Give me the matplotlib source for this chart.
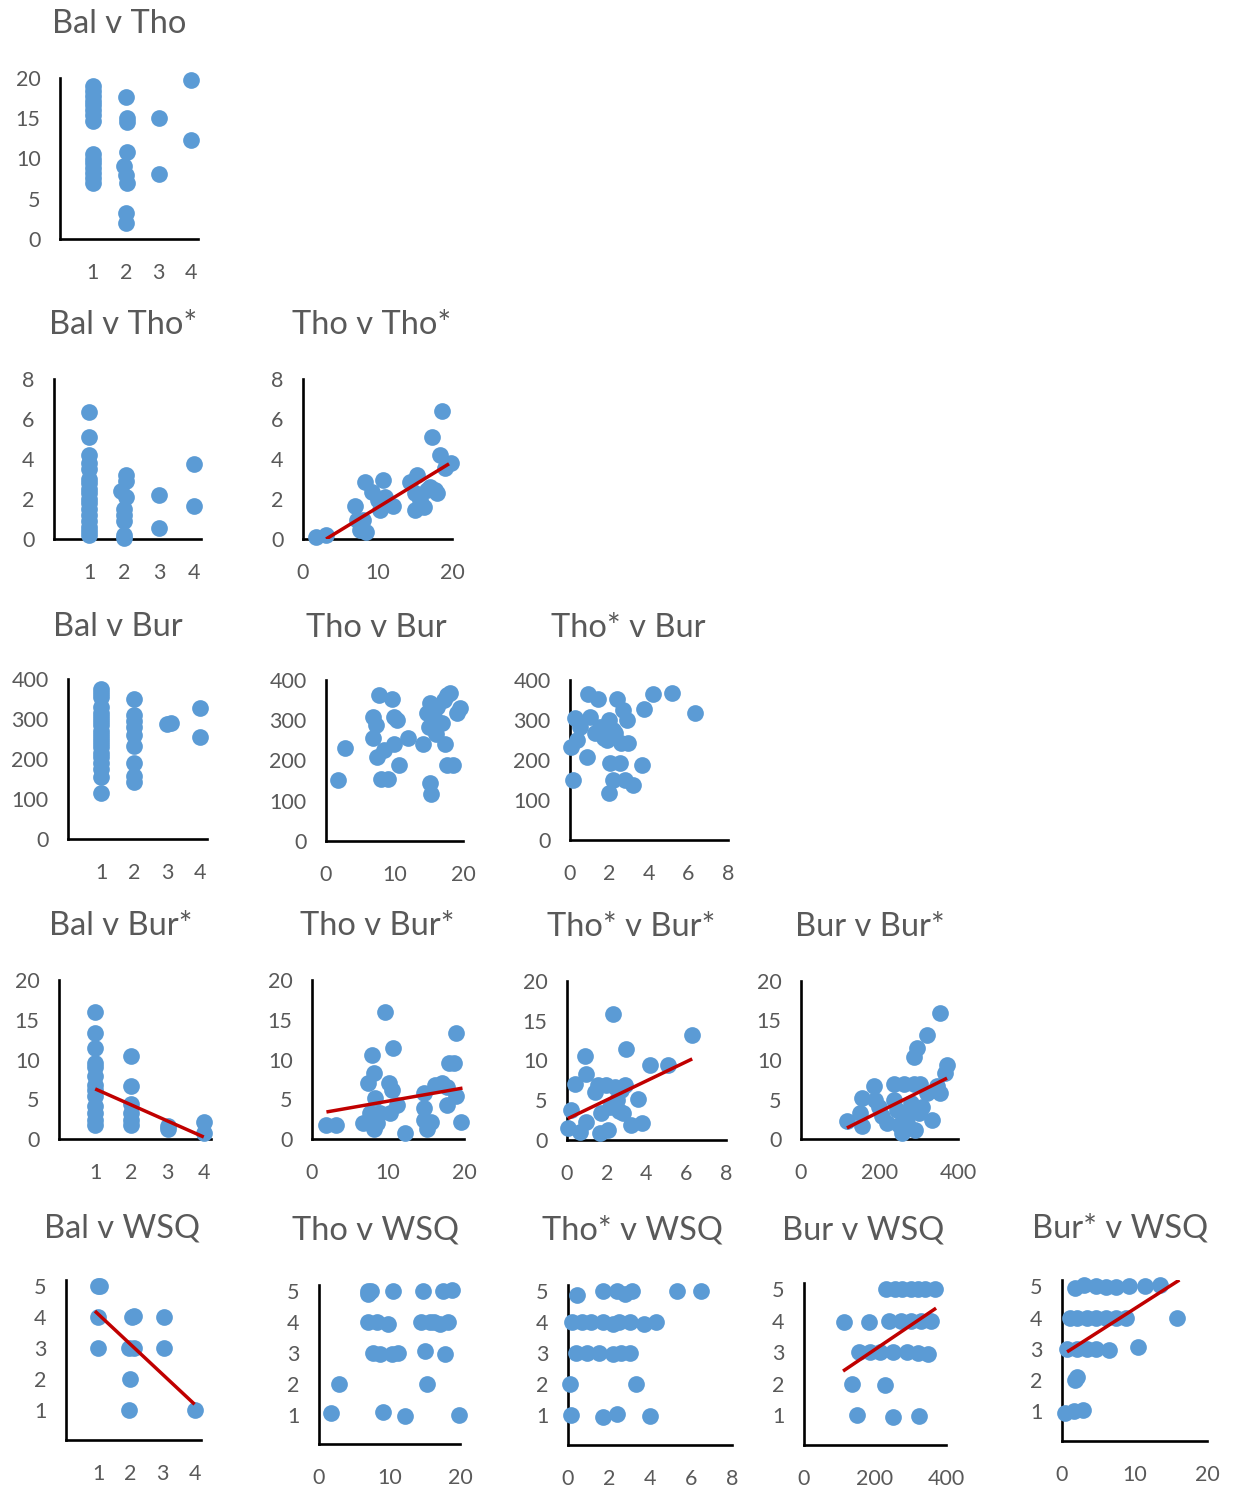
import numpy as np
import matplotlib
matplotlib.use("Agg")
import matplotlib.pyplot as plt

plt.rcParams['font.family'] = ['Lato', 'DejaVu Sans']

W, H = 1236, 1488
DOT = '#5B9BD5'
LINE = '#C00000'
GREY = '#595959'

# ---- data ----
bal_tho_x = [1, 1, 1, 1, 1, 1, 1, 1, 1, 1, 1, 1, 1, 1, 1,
             2, 2.05, 2.05, 2.05, 1.95, 2, 2.05, 2, 2, 3, 3, 4, 4]
bal_tho_y = [19.0, 18.4, 17.8, 17.2, 16.6, 16.0, 15.4, 14.7, 10.6, 10.0, 9.4, 8.8, 8.2, 7.6, 7.0,
             17.6, 15.0, 14.5, 10.8, 9.1, 8.0, 7.0, 3.2, 2.0, 15.0, 8.1, 19.7, 12.3]

bal_thos_x = [1, 1, 1, 1, 1, 1, 1, 1, 1, 1, 1, 1, 1, 1, 1, 1, 1,
              2.05, 2.05, 1.9, 2.05, 2, 2, 2, 2, 2, 3, 3, 4, 4]
bal_thos_y = [6.35, 5.1, 4.2, 3.8, 3.5, 3.0, 2.8, 2.5, 2.3, 2.0, 1.8, 1.5, 1.2, 0.9, 0.6, 0.4, 0.2,
              3.2, 2.9, 2.4, 2.1, 1.5, 1.2, 0.9, 0.2, 0.05, 2.2, 0.55, 3.75, 1.65]

tho_thos_x = [1.8, 3.1, 7.0, 7.2, 7.6, 8.3, 8.5, 8.1, 9.2, 10.1, 10.3, 10.7, 11.0, 12.1, 14.4,
              15.3, 15.1, 15.1, 16.2, 15.7, 17.1, 17.7, 17.3, 18.4, 18.7, 19.8, 19.1, 18.0, 16.6]
tho_thos_y = [0.08, 0.18, 1.65, 0.95, 0.45, 2.87, 0.37, 0.95, 2.37, 1.95, 1.45, 2.95, 2.12, 1.65, 2.87,
              3.2, 2.28, 1.45, 1.62, 1.95, 2.62, 2.45, 5.12, 4.2, 6.38, 3.79, 3.54, 2.28, 2.45]

bal_bur_x = [1, 1, 1, 1, 1, 1, 1, 1, 1, 1, 1, 1, 1, 1, 1, 1, 1, 1, 1,
             2, 2, 2, 2, 2, 2, 2, 2, 2, 3, 3.1, 4, 4]
bal_bur_y = [375, 365, 355, 330, 315, 305, 295, 285, 270, 260, 250, 240, 230, 215, 205, 190, 175, 155, 115,
             350, 310, 295, 280, 260, 232, 190, 157, 142, 288, 290, 327, 254]

tho_bur_x = [1.8, 2.8, 7.7, 6.9, 7.3, 6.9, 7.5, 8.4, 8.1, 9.1, 9.6, 9.9, 10.3, 9.9, 10.7, 12.0, 14.2,
             14.7, 15.0, 15.2, 15.4, 16.0, 16.2, 16.9, 17.4, 17.7, 18.1, 17.2, 17.7, 18.6, 19.1, 19.6,
             15.7, 15.2]
tho_bur_y = [151, 232, 363, 309, 288, 255, 209, 226, 155, 153, 354, 309, 300, 242, 188, 255, 242,
             317, 284, 143, 118, 267, 334, 292, 242, 363, 367, 350, 188, 188, 317, 330,
             309, 342]

thos_bur_x = [0.17, 0.03, 0.25, 0.34, 0.5, 0.88, 0.93, 1.0, 1.44, 1.27, 1.5, 1.7, 1.95, 2.0, 1.95,
              2.2, 2.28, 2.37, 2.54, 2.6, 2.7, 2.8, 2.88, 2.96, 3.2, 3.64, 3.77, 4.2, 5.16, 6.35,
              2.2, 1.86]
thos_bur_y = [150, 233, 304, 250, 283, 207, 364, 308, 352, 267, 283, 254, 300, 192, 117,
              150, 267, 352, 192, 242, 325, 150, 300, 242, 138, 188, 327, 365, 368, 317,
              275, 250]

bal_burs_x = [1, 1, 1, 1, 1, 1, 1, 1, 1, 1, 1, 1, 1,
              2, 2, 2, 2, 2, 2, 3, 3, 4, 4]
bal_burs_y = [16.0, 13.3, 11.4, 9.5, 9.1, 7.9, 6.8, 6.2, 5.4, 4.1, 3.3, 2.4, 1.8,
              10.5, 6.7, 4.4, 3.3, 2.4, 1.8, 1.6, 1.2, 2.2, 0.75]

tho_burs_x = [1.8, 3.2, 6.75, 7.4, 7.85, 8.1, 8.3, 7.6, 8.1, 9.0, 9.6, 10.1, 10.5, 10.3, 10.7, 11.2,
              12.3, 14.7, 14.7, 14.7, 15.6, 15.1, 16.2, 17.1, 17.8, 17.8, 18.0, 18.7, 18.9, 19.0, 19.6,
              8.5]
tho_burs_y = [1.7, 1.8, 2.0, 7.0, 10.6, 8.3, 5.1, 3.3, 1.2, 3.3, 16.0, 7.0, 6.2, 3.3, 11.5, 4.3,
              0.75, 5.8, 3.9, 2.4, 2.2, 1.2, 6.8, 7.0, 6.6, 4.3, 9.5, 9.5, 5.4, 13.3, 2.2,
              2.0]

thos_burs_x = [0.05, 0.2, 0.4, 0.64, 0.9, 0.94, 0.97, 1.4, 1.55, 1.65, 1.7, 1.98, 2.07, 2.3, 2.4,
               2.5, 2.6, 2.74, 2.9, 2.96, 2.8, 3.24, 3.58, 3.75, 4.17, 5.1, 6.3, 2.15]
thos_burs_y = [1.5, 3.8, 7.0, 1.05, 10.6, 8.3, 2.3, 6.1, 6.9, 0.84, 3.35, 6.9, 1.26, 15.9, 6.7,
               5.0, 3.6, 6.3, 6.9, 11.4, 3.35, 1.9, 5.2, 2.1, 9.4, 9.4, 13.2, 4.2]

bur_burs_x = [117, 151, 155, 155, 185, 189, 198, 206, 219, 236, 236, 245, 249, 257, 262, 270, 270,
              287, 287, 296, 291, 300, 304, 308, 321, 321, 334, 346, 353, 355, 368, 372, 279]
bur_burs_y = [2.3, 3.3, 1.7, 5.2, 6.7, 5.0, 4.1, 2.9, 2.0, 5.0, 6.9, 3.7, 1.8, 0.76, 6.9, 3.3, 2.0,
              6.9, 10.4, 11.5, 1.2, 3.3, 6.9, 4.1, 13.2, 5.8, 2.4, 6.7, 15.9, 5.8, 8.3, 9.4, 4.6]

bal_wsq_x = [1, 1.05, 1, 1, 2.05, 2.1, 1.95, 2.1, 2, 1.95, 3.05, 3.05, 4]
bal_wsq_y = [5, 5, 4, 3, 4, 4.05, 3, 3, 2, 1, 4, 3, 1]

tho_wsq_x = [1.75, 2.9, 7.0, 7.0, 7.4, 7.0, 8.2, 9.8, 9.1, 10.5, 7.7, 8.6, 10.3, 11.2, 12.2, 14.8,
             14.5, 15.7, 17.2, 18.3, 15.0, 17.9, 15.3, 17.6, 18.8, 19.8, 16.3]
tho_wsq_y = [1.07, 1.98, 5.0, 4.9, 5.0, 4.0, 4.0, 3.95, 1.1, 5.0, 3.0, 2.95, 2.95, 3.0, 0.95, 5.0,
             4.0, 4.0, 3.95, 4.0, 3.05, 2.95, 2.0, 5.0, 5.05, 1.0, 4.0]

thos_wsq_x = [0.44, 1.7, 2.4, 2.8, 3.1, 5.3, 6.5,
              0.2, 0.7, 1.1, 1.7, 2.2, 2.5, 3.0, 3.7, 4.3,
              0.4, 0.95, 1.5, 2.2, 2.6, 3.0,
              0.1, 3.3, 0.15, 1.7, 2.4, 4.0]
thos_wsq_y = [4.87, 5.0, 5.0, 4.9, 5.0, 5.0, 5.0,
              4.0, 4.0, 4.0, 4.0, 3.95, 4.0, 4.0, 3.95, 4.0,
              3.0, 3.0, 3.0, 2.97, 3.0, 3.0,
              2.0, 2.0, 1.0, 0.95, 1.05, 0.97]

bur_wsq_x = [230, 255, 275, 300, 320, 340, 368,
             113, 183, 239, 273, 301, 330, 358,
             155, 185, 215, 250, 290, 320, 348,
             135, 228, 149, 251, 324]
bur_wsq_y = [5.0, 5.0, 5.0, 5.0, 5.0, 5.0, 5.0,
             3.95, 3.95, 4.0, 4.0, 4.0, 4.0, 4.0,
             3.0, 3.0, 3.0, 3.0, 3.0, 2.98, 2.95,
             2.0, 1.97, 1.0, 0.95, 0.97]

burs_wsq_x = [1.8, 3.1, 4.7, 6.1, 7.4, 9.2, 11.5, 13.5,
              1.1, 2.0, 3.4, 4.7, 6.1, 7.4, 8.8, 15.9,
              0.7, 2.0, 3.4, 4.7, 6.5, 10.5,
              1.8, 2.0, 0.4, 1.6, 2.9]
burs_wsq_y = [4.95, 5.05, 5.0, 4.97, 4.97, 5.0, 5.0, 5.05,
              4.0, 4.0, 4.0, 4.0, 4.0, 4.0, 4.0, 4.0,
              3.0, 3.0, 3.0, 3.0, 2.97, 3.05,
              2.0, 2.1, 0.95, 1.0, 1.05]

# trend line end points
tr_tho_thos = ([3.1, 19.6], [0.0, 3.76])
tr_bal_burs = ([1.0, 4.0], [6.3, 0.25])
tr_tho_burs = ([1.9, 19.8], [3.4, 6.4])
tr_thos_burs = ([0.05, 6.3], [2.7, 10.2])
tr_bur_burs = ([117, 372], [1.4, 7.7])
tr_bal_wsq = ([0.9, 4.0], [4.2, 1.2])
tr_bur_wsq = ([110, 372], [2.4, 4.4])
tr_burs_wsq = ([0.7, 16.2], [2.9, 5.2])

# axis set-ups
BAL = ((0, 4.2), [1, 2, 3, 4])
THO = ((0, 20), [0, 10, 20])
THOS = ((0, 8), [0, 2, 4, 6, 8])
BUR = ((0, 400), [0, 200, 400])
BURS = ((0, 20), [0, 10, 20])
Y_THO = ((0, 20), [0, 5, 10, 15, 20])
Y_THOS = ((0, 8), [0, 2, 4, 6, 8])
Y_BUR = ((0, 400), [0, 100, 200, 300, 400])
Y_BURS = ((0, 20), [0, 5, 10, 15, 20])
Y_WSQ = ((0.05, 5.2), [1, 2, 3, 4, 5])


def panel(fig, box, title, tpos, x, y, xa, ya, trend=None):
    xl, yt, xr, yb = box
    ax = fig.add_axes([xl / W, 1 - yb / H, (xr - xl) / W, (yb - yt) / H])
    ax.scatter(x, y, s=145, color=DOT, linewidths=0, zorder=3, clip_on=False)
    if trend is not None:
        ax.plot(trend[0], trend[1], color=LINE, lw=2.5, zorder=4, solid_capstyle='butt')
    ax.set_xlim(*xa[0])
    ax.set_ylim(*ya[0])
    ax.set_xticks(xa[1])
    ax.set_yticks(ya[1])
    for s in ['top', 'right']:
        ax.spines[s].set_visible(False)
    for s in ['left', 'bottom']:
        ax.spines[s].set_linewidth(1.9)
        ax.spines[s].set_color('black')
    ax.tick_params(length=0, labelsize=15.5, labelcolor=GREY)
    ax.tick_params(axis='x', pad=17)
    ax.tick_params(axis='y', pad=14)
    ax.patch.set_alpha(0)
    fig.text(tpos[0] / W, 1 - (tpos[1] + 11) / H, title, ha='center', va='baseline',
             fontsize=23.5, color=GREY)
    return ax


def main():
    fig = plt.figure(figsize=(W / 100, H / 100), dpi=100)

    panel(fig, (60, 78, 198, 239), 'Bal v Tho', (119, 22), bal_tho_x, bal_tho_y, BAL, Y_THO)

    panel(fig, (54, 379, 201, 539), 'Bal v Tho*', (123, 323), bal_thos_x, bal_thos_y, BAL, Y_THOS)
    panel(fig, (303, 379, 452, 539), 'Tho v Tho*', (372, 323), tho_thos_x, tho_thos_y, THO, Y_THOS,
          tr_tho_thos)

    panel(fig, (68, 679, 207, 839), 'Bal v Bur', (118, 625), bal_bur_x, bal_bur_y, BAL, Y_BUR)
    panel(fig, (326, 680, 463, 841), 'Tho v Bur', (376, 626), tho_bur_x, tho_bur_y, THO, Y_BUR)
    panel(fig, (570, 680, 728, 840), 'Tho* v Bur', (628, 626), thos_bur_x, thos_bur_y, THOS, Y_BUR)

    panel(fig, (59, 980, 211, 1139), 'Bal v Bur*', (121, 924), bal_burs_x, bal_burs_y, BAL, Y_BURS,
          tr_bal_burs)
    panel(fig, (312, 980, 464, 1139), 'Tho v Bur*', (377, 924), tho_burs_x, tho_burs_y, THO, Y_BURS,
          tr_tho_burs)
    panel(fig, (567, 981, 726, 1140), 'Tho* v Bur*', (631, 925), thos_burs_x, thos_burs_y, THOS, Y_BURS,
          tr_thos_burs)
    panel(fig, (801, 981, 958, 1139), 'Bur v Bur*', (870, 925), bur_burs_x, bur_burs_y, BUR, Y_BURS,
          tr_bur_burs)

    panel(fig, (66, 1280, 201, 1440), 'Bal v WSQ', (122, 1226), bal_wsq_x, bal_wsq_y, BAL, Y_WSQ,
          tr_bal_wsq)
    panel(fig, (319, 1285, 460, 1444), 'Tho v WSQ', (376, 1229), tho_wsq_x, tho_wsq_y, THO, Y_WSQ)
    panel(fig, (568, 1285, 732, 1445), 'Tho* v WSQ', (632, 1229), thos_wsq_x, thos_wsq_y, THOS, Y_WSQ)
    panel(fig, (804, 1283, 946, 1445), 'Bur v WSQ', (863, 1229), bur_wsq_x, bur_wsq_y, BUR, Y_WSQ,
          tr_bur_wsq)
    panel(fig, (1062, 1280, 1207, 1441), 'Bur* v WSQ', (1120, 1226), burs_wsq_x, burs_wsq_y, BURS, Y_WSQ,
          tr_burs_wsq)

    fig.savefig('out.png', dpi=100, facecolor='white')


if __name__ == "__main__":
    main()
